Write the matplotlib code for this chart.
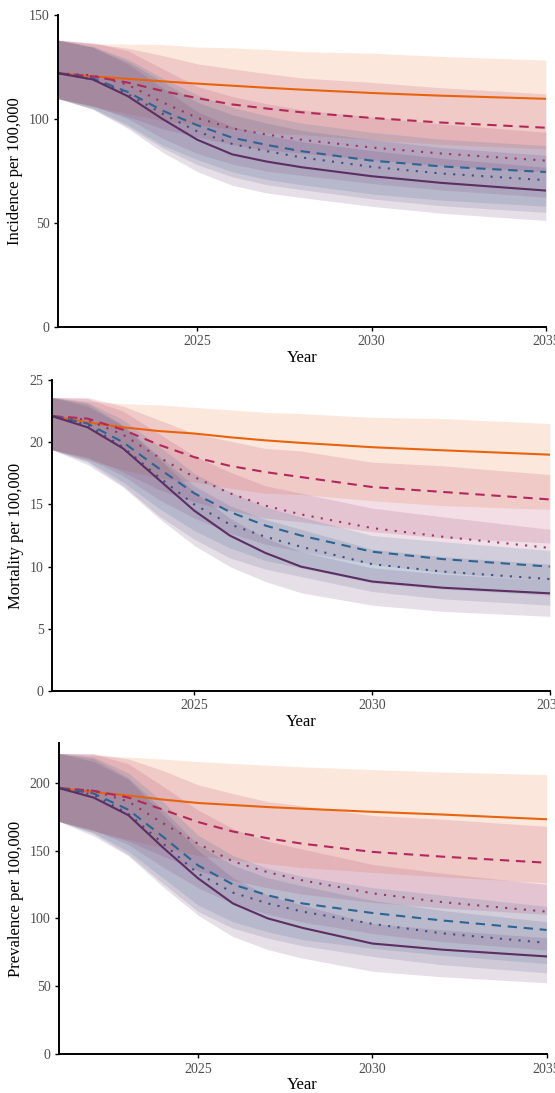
# Proyecciones de incidencia, mortalidad y prevalencia por escenario (2021-2035)
# Cada escenario tiene una línea central y una banda de incertidumbre

import matplotlib
matplotlib.use('Agg')
import matplotlib.pyplot as plt

plt.rcParams['font.family'] = ['Liberation Serif', 'DejaVu Serif']

anios = [2021, 2022, 2023, 2024, 2025, 2026, 2027, 2028, 2030, 2032, 2035]

# ========= INCIDENCIA =========
inc_naranja = [122, 120.5, 119.3, 118.1, 117, 116, 115, 114.1, 112.5, 111.2, 109.7]
inc_naranja_inf = [109.8, 106.0, 102.6, 99.2, 97.1, 95.1, 93.2, 92.4, 90.0, 87.8, 85.6]
inc_naranja_sup = [137.9, 136.2, 136.0, 135.8, 134.6, 134.2, 133.4, 132.4, 131.6, 130.1, 128.3]

inc_carmin = [122, 120.5, 117.5, 113.5, 110, 107, 105, 103.2, 100.5, 98.3, 95.8]
inc_carmin_inf = [109.8, 106.0, 101.1, 95.3, 91.3, 87.7, 85.1, 83.6, 80.4, 77.7, 74.7]
inc_carmin_sup = [137.9, 136.2, 134.0, 130.5, 126.5, 124.1, 121.8, 119.7, 117.6, 115.0, 112.1]

inc_magenta = [122, 121, 116.5, 108, 100.5, 95.5, 92.5, 90, 86.3, 83.4, 80]
inc_magenta_inf = [109.8, 106.5, 100.2, 90.7, 83.4, 78.3, 74.9, 72.9, 69.0, 65.9, 62.4]
inc_magenta_sup = [137.9, 136.7, 132.8, 124.2, 115.6, 110.8, 107.3, 104.4, 101.0, 97.6, 93.6]

inc_azul = [122, 119.5, 113, 104, 97, 91, 87.5, 84.5, 80, 77.2, 74.5]
inc_azul_inf = [109.8, 105.2, 97.2, 87.4, 80.5, 74.6, 70.9, 68.4, 64.0, 61.0, 58.1]
inc_azul_sup = [137.9, 135.0, 128.8, 119.6, 111.6, 105.6, 101.5, 98.0, 93.6, 90.3, 87.2]

inc_marino = [122, 119, 112, 102.5, 94, 88, 84.5, 81.5, 77, 73.8, 70.6]
inc_marino_inf = [109.8, 104.7, 96.3, 86.1, 78.0, 72.2, 68.4, 66.0, 61.6, 58.3, 55.1]
inc_marino_sup = [137.9, 134.5, 127.7, 117.9, 108.1, 102.1, 98.0, 94.5, 90.1, 86.3, 82.6]

inc_morado = [122, 119, 111, 100, 90, 83, 79.5, 76.8, 72.5, 69.3, 65.6]
inc_morado_inf = [109.8, 104.7, 95.5, 84.0, 74.7, 68.1, 64.4, 62.2, 58.0, 54.7, 51.2]
inc_morado_sup = [137.9, 134.5, 126.5, 115.0, 103.5, 96.3, 92.2, 89.1, 84.8, 81.1, 76.8]

# ========= MORTALIDAD =========
mor_naranja = [22.1, 21.6, 21.2, 20.9, 20.7, 20.4, 20.15, 19.95, 19.6, 19.35, 19.0]
mor_naranja_inf = [19.4, 18.6, 17.8, 17.1, 16.8, 16.3, 15.9, 15.8, 15.3, 14.9, 14.6]
mor_naranja_sup = [23.6, 23.3, 23.1, 23.0, 22.8, 22.6, 22.4, 22.3, 22.0, 21.9, 21.5]

mor_carmin = [22.1, 21.9, 21.0, 19.8, 18.8, 18.1, 17.6, 17.2, 16.4, 16.0, 15.4]
mor_carmin_inf = [19.4, 18.8, 17.6, 16.2, 15.2, 14.5, 13.9, 13.6, 12.8, 12.3, 11.9]
mor_carmin_sup = [23.6, 23.6, 22.9, 21.8, 20.7, 20.1, 19.5, 19.3, 18.4, 18.1, 17.4]

mor_magenta = [22.1, 21.8, 20.6, 18.8, 17.2, 15.9, 14.9, 14.2, 13.1, 12.4, 11.5]
mor_magenta_inf = [19.4, 18.7, 17.3, 15.4, 13.9, 12.7, 11.8, 11.2, 10.2, 9.5, 8.9]
mor_magenta_sup = [23.6, 23.5, 22.5, 20.7, 18.9, 17.6, 16.5, 15.9, 14.7, 14.0, 13.0]

mor_azul = [22.1, 21.5, 20.0, 17.9, 15.9, 14.4, 13.3, 12.5, 11.2, 10.6, 10.0]
mor_azul_inf = [19.4, 18.5, 16.8, 14.7, 12.9, 11.5, 10.5, 9.9, 8.7, 8.2, 7.7]
mor_azul_sup = [23.6, 23.2, 21.8, 19.7, 17.5, 16.0, 14.8, 14.0, 12.5, 12.0, 11.3]

mor_marino = [22.1, 21.4, 19.6, 17.2, 15.0, 13.4, 12.4, 11.6, 10.2, 9.6, 9.0]
mor_marino_inf = [19.4, 18.4, 16.5, 14.1, 12.2, 10.7, 9.8, 9.2, 8.0, 7.4, 6.9]
mor_marino_sup = [23.6, 23.1, 21.4, 18.9, 16.5, 14.9, 13.8, 13.0, 11.4, 10.8, 10.2]

mor_morado = [22.1, 21.2, 19.5, 17.0, 14.5, 12.5, 11.1, 10.0, 8.8, 8.3, 7.85]
mor_morado_inf = [19.4, 18.2, 16.4, 13.9, 11.7, 10.0, 8.8, 7.9, 6.9, 6.4, 6.0]
mor_morado_sup = [23.6, 22.9, 21.3, 18.7, 16.0, 13.9, 12.3, 11.2, 9.9, 9.4, 8.9]

# ========= PREVALENCIA =========
pre_naranja = [196, 193, 190.5, 187.5, 185, 183.5, 182, 180.8, 178.5, 176.5, 173]
pre_naranja_inf = [171.5, 164.1, 158.1, 151.9, 146.2, 143.1, 140.1, 137.4, 133.9, 130.6, 126.3]
pre_naranja_sup = [221.5, 220.0, 218.8, 217.3, 215.5, 214.2, 212.8, 211.6, 209.6, 207.8, 205.9]

pre_carmin = [196, 194, 189, 180, 171, 164, 159, 155, 149, 145.5, 141]
pre_carmin_inf = [171.5, 164.9, 156.9, 145.8, 135.1, 127.9, 122.4, 117.8, 111.8, 107.7, 102.9]
pre_carmin_sup = [221.5, 221.2, 217.4, 208.8, 198.4, 191.9, 186.0, 182.9, 175.8, 173.1, 167.8]

pre_magenta = [196, 194, 186, 170, 155, 142, 134, 128, 118.5, 112, 105]
pre_magenta_inf = [171.5, 164.9, 154.4, 137.7, 122.5, 110.8, 103.2, 97.3, 88.9, 82.9, 76.7]
pre_magenta_sup = [221.5, 221.2, 213.9, 197.2, 179.8, 166.1, 156.8, 151.0, 139.8, 133.3, 125.0]

pre_azul = [196, 192, 180, 160, 139, 125, 117, 111, 104, 98.5, 91.5]
pre_azul_inf = [171.5, 163.2, 149.4, 129.6, 109.8, 97.5, 90.1, 84.4, 78.0, 72.9, 66.8]
pre_azul_sup = [221.5, 218.9, 207.0, 185.6, 161.2, 146.3, 136.9, 131.0, 122.7, 117.2, 108.9]

pre_marino = [196, 191, 177, 155, 133, 119, 111, 105, 96, 89, 82]
pre_marino_inf = [171.5, 162.4, 146.9, 125.6, 105.1, 92.8, 85.5, 79.8, 72.0, 65.9, 59.9]
pre_marino_sup = [221.5, 217.7, 203.6, 179.8, 154.3, 139.2, 129.9, 123.9, 113.3, 105.9, 97.6]

pre_morado = [196, 189, 176, 152, 129.5, 111, 100, 93, 81.5, 77, 72]
pre_morado_inf = [171.5, 160.7, 146.1, 123.1, 102.3, 86.6, 77.0, 70.7, 61.1, 57.0, 52.6]
pre_morado_sup = [221.5, 215.5, 202.4, 176.3, 150.2, 129.9, 117.0, 109.7, 96.2, 91.6, 85.7]

# color y tipo de línea de cada escenario
colores = ['#E8630E', '#B2285A', '#9A3366', '#2C6594', '#404F80', '#5C2E63']
estilos = ['-', (0, (4.5, 3.2)), (0, (1, 3.5)), (0, (4.5, 3.2)), (0, (1, 3.5)), '-']


def graficar_panel(ax, series, titulo_y, y_max, ticks_y):
    for (linea, inf, sup), color in zip(series, colores):
        ax.fill_between(anios, inf, sup, color=color, alpha=0.15, linewidth=0)
    for (linea, inf, sup), color, estilo in zip(series, colores, estilos):
        ax.plot(anios, linea, color=color, linestyle=estilo, linewidth=1.5)
    ax.set_xlim(2021, 2035)
    ax.set_ylim(0, y_max)
    ax.set_xticks([2025, 2030, 2035])
    ax.set_yticks(ticks_y)
    ax.set_xlabel('Year', fontsize=12, labelpad=1)
    ax.set_ylabel(titulo_y, fontsize=12, labelpad=4)
    for lado in ['top', 'right']:
        ax.spines[lado].set_visible(False)
    for lado in ['left', 'bottom']:
        ax.spines[lado].set_linewidth(1.4)
    ax.tick_params(axis='both', length=3, width=1.0, labelsize=10, labelcolor='#4d4d4d', pad=3)


fig = plt.figure(figsize=(5.55, 10.93), dpi=100)

ax1 = fig.add_axes([0.1045, 0.7008, 0.879, 0.2855])
graficar_panel(ax1, [(inc_naranja, inc_naranja_inf, inc_naranja_sup),
                     (inc_carmin, inc_carmin_inf, inc_carmin_sup),
                     (inc_magenta, inc_magenta_inf, inc_magenta_sup),
                     (inc_azul, inc_azul_inf, inc_azul_sup),
                     (inc_marino, inc_marino_inf, inc_marino_sup),
                     (inc_morado, inc_morado_inf, inc_morado_sup)],
               'Incidence per 100,000', 150, [0, 50, 100, 150])

ax2 = fig.add_axes([0.0937, 0.3678, 0.897, 0.2845])
graficar_panel(ax2, [(mor_naranja, mor_naranja_inf, mor_naranja_sup),
                     (mor_carmin, mor_carmin_inf, mor_carmin_sup),
                     (mor_magenta, mor_magenta_inf, mor_magenta_sup),
                     (mor_azul, mor_azul_inf, mor_azul_sup),
                     (mor_marino, mor_marino_inf, mor_marino_sup),
                     (mor_morado, mor_morado_inf, mor_morado_sup)],
               'Mortality per 100,000', 25, [0, 5, 10, 15, 20, 25])

ax3 = fig.add_axes([0.1058, 0.0355, 0.879, 0.2845])
graficar_panel(ax3, [(pre_naranja, pre_naranja_inf, pre_naranja_sup),
                     (pre_carmin, pre_carmin_inf, pre_carmin_sup),
                     (pre_magenta, pre_magenta_inf, pre_magenta_sup),
                     (pre_azul, pre_azul_inf, pre_azul_sup),
                     (pre_marino, pre_marino_inf, pre_marino_sup),
                     (pre_morado, pre_morado_inf, pre_morado_sup)],
               'Prevalence per 100,000', 229, [0, 50, 100, 150, 200])

fig.savefig('out.png', dpi=100)
